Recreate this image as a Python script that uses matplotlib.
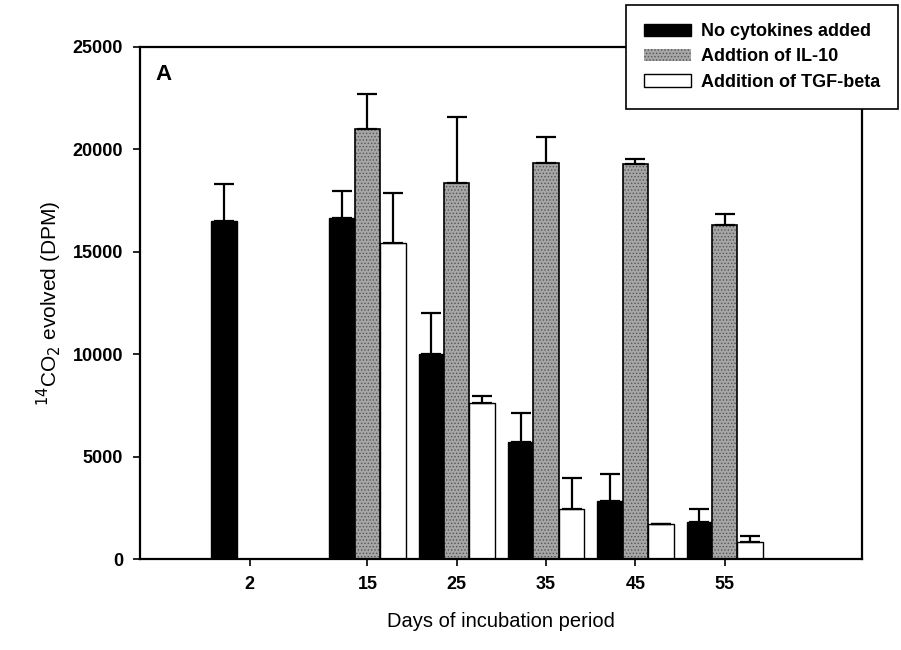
import numpy as np
import matplotlib
matplotlib.use("Agg")
import matplotlib.pyplot as plt

plt.rcParams['font.family'] = ['Liberation Sans', 'DejaVu Sans']
plt.rcParams['hatch.linewidth'] = 0.6

#====================
# Data
#====================
days = ['2', '15', '25', '35', '45', '55']
day_pos = [0, 1.32, 2.32, 3.32, 4.32, 5.32]   # day 2 sits a bit apart

none_mean = [16500, 16650, 10000, 5730, 2830, 1820]
none_err = [1800, 1300, 2000, 1380, 1300, 620]

il10_mean = [np.nan, 21000, 18350, 19320, 19300, 16310]
il10_err = [np.nan, 1700, 3200, 1300, 200, 520]

tgf_mean = [np.nan, 15400, 7600, 2440, 1690, 850]
tgf_err = [np.nan, 2450, 370, 1530, 0, 290]

labels = ['No cytokines added', 'Addtion of IL-10', 'Addition of TGF-beta']

#====================
# Figure
#====================
fig = plt.figure(figsize=(9.01, 6.5), dpi=100)
ax = fig.add_axes([0.155, 0.14, 0.802, 0.788])

x = np.array(day_pos)
w = 0.285
ekw = dict(elinewidth=1.6, capthick=1.6)

b1 = ax.bar(x - w, none_mean, w, color='black', edgecolor='black', linewidth=1,
            yerr=[np.zeros(6), none_err], capsize=7, error_kw=ekw, label=labels[0])
b2 = ax.bar(x, il10_mean, w, color='#a6a6a6', edgecolor='#555555', linewidth=0,
            hatch='.....', yerr=[np.zeros(6), il10_err], capsize=7, error_kw=ekw,
            label=labels[1])
b3 = ax.bar(x + w, tgf_mean, w, color='white', edgecolor='black', linewidth=1,
            yerr=[np.zeros(6), tgf_err], capsize=7, error_kw=ekw, label=labels[2])
# black outline on the stippled bars
for p in b2.patches:
    ax.add_patch(plt.Rectangle(p.get_xy(), p.get_width(), p.get_height(),
                               fill=False, edgecolor='black', linewidth=1.2))

ax.set_xlim(-1.23, 6.86)
ax.set_ylim(0, 25000)
ax.set_xticks(x)
ax.set_xticklabels(days)
ax.set_yticks([0, 5000, 10000, 15000, 20000, 25000])
ax.tick_params(direction='out', length=5, width=1.2, labelsize=13, pad=7)
for t in ax.get_xticklabels() + ax.get_yticklabels():
    t.set_fontweight('bold')
for s in ax.spines.values():
    s.set_linewidth(1.6)

ax.set_xlabel('Days of incubation period', fontsize=14.5, labelpad=14)
ax.set_ylabel('$^{14}$CO$_2$ evolved (DPM)', fontsize=15, labelpad=6)

ax.text(0.022, 0.945, 'A', transform=ax.transAxes, fontsize=16,
        fontweight='bold', va='center', ha='left')

leg = fig.legend(handles=[b1, b2, b3], labels=labels, loc='upper left',
                 bbox_to_anchor=(0.695, 0.992), fancybox=False, framealpha=1,
                 edgecolor='black', fontsize=13, handlelength=2.6,
                 handleheight=0.7, handletextpad=0.55, borderpad=1.0,
                 labelspacing=0.45, borderaxespad=0)
leg.get_frame().set_linewidth(1.2)
for t in leg.get_texts():
    t.set_fontweight('bold')

fig.savefig('out.png', dpi=100)
